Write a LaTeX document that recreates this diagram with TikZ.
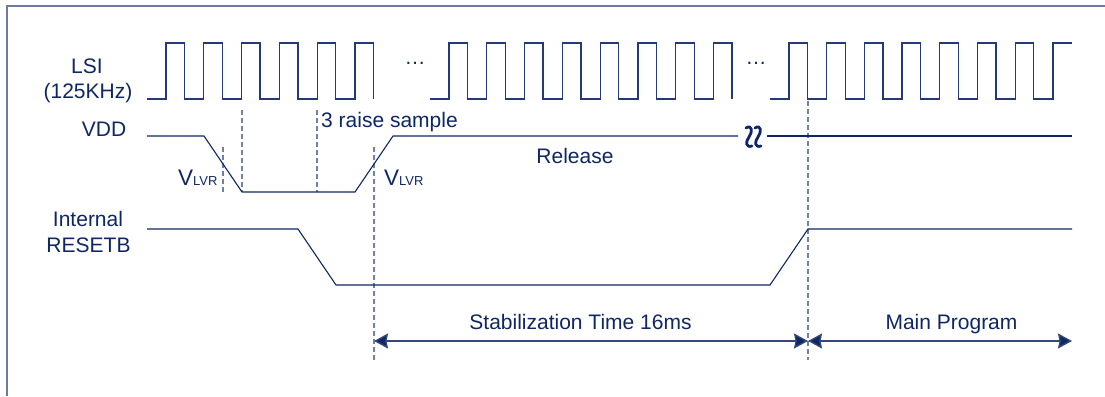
\documentclass[tikz,border=0pt]{standalone}
\usepackage{fontspec}
\setmainfont{Liberation Sans}
\usetikzlibrary{arrows.meta}
\definecolor{navy}{RGB}{14,38,100}
\definecolor{dashc}{RGB}{112,128,168}
\definecolor{framec}{RGB}{110,122,160}
\definecolor{clkc}{RGB}{36,58,118}
\tikzset{
  sigline/.style={draw=navy, line width=1.1pt},
  clkline/.style={draw=clkc, line width=1.3pt},
  guideline/.style={draw=dashc, line width=1.2pt, dash pattern=on 5pt off 3pt},
  lbltext/.style={text=navy, font=\fontsize{21}{25}\selectfont, inner sep=0pt},
  spanarrow/.style={draw=navy!85, line width=1.4pt,
    {Stealth[length=14pt,width=15pt,inset=1.5pt,fill=navy]}-{Stealth[length=14pt,width=15pt,inset=1.5pt,fill=navy]}},
  breakmark/.style={draw=navy, line width=2.8pt, line cap=round}
}
\newcommand{\subtxt}{\fontsize{13}{15}\selectfont}
\begin{document}
\begin{tikzpicture}[x=1pt,y=-1pt]
\useasboundingbox (0,0) rectangle (1105,396);
% frame
\draw[framec, line width=1.3pt] (7,396) -- (7,6) -- (1105,6);

% labels
\node[lbltext, anchor=base] (lsi) at (87,73.3) {LSI};
\node[lbltext, anchor=base] (khz) at (88,98) {(125KHz)};
\node[lbltext, anchor=base] (vdd) at (104,136.5) {VDD};
\node[lbltext, anchor=base] (int) at (88,226) {Internal};
\node[lbltext, anchor=base] (rst) at (88.5,252.3) {RESETB};
\node[lbltext, anchor=base] (dots1) at (415,64.5) {…};
\node[lbltext, anchor=base] (dots2) at (756,64.5) {…};
\node[lbltext, anchor=base west] (raise) at (321,127) {3 raise sample};
\node[lbltext, anchor=base] (rel) at (575,163.3) {Release};
\node[lbltext, anchor=base west, font=\fontsize{22.5}{26}\selectfont] (vlvr1) at (178,185) {V{\subtxt LVR}};
\node[lbltext, anchor=base west, font=\fontsize{22.5}{26}\selectfont] (vlvr2) at (384,185) {V{\subtxt LVR}};
\node[lbltext, anchor=base] (stab) at (580.5,329) {Stabilization Time 16ms};
\node[lbltext, anchor=base] (mainp) at (951.5,329) {Main Program};

% LSI clock
\draw[clkline] (147,99) \foreach \k in {0,...,5} {
  -- ({166+37.8*\k},99) -- ({166+37.8*\k},43) -- ({184.5+37.8*\k},43) -- ({184.5+37.8*\k},99)};
\draw[clkline] (430,99) \foreach \k in {0,...,7} {
  -- ({449+37.8*\k},99) -- ({449+37.8*\k},43) -- ({467.5+37.8*\k},43) -- ({467.5+37.8*\k},99)};
\draw[clkline] (770,99) \foreach \k in {0,...,6} {
  -- ({789+37.7*\k},99) -- ({789+37.7*\k},43) -- ({807.5+37.7*\k},43) -- ({807.5+37.7*\k},99)}
  -- (1052.9,99) -- (1052.9,43) -- (1072,43);

% guide lines
\draw[guideline] (223,147) -- (223,192);
\draw[guideline] (242,110) -- (242,192);
\draw[guideline] (317,110) -- (317,192);
\coordinate (g4top) at (374,147);
\coordinate (g4bot) at (374,360);
\coordinate (g5top) at (808,101);
\coordinate (g5bot) at (808,360);
\draw[guideline] (g4top) -- (g4bot);
\draw[guideline] (g5top) -- (g5bot);

% VDD
\draw[sigline] (147,136) -- (204,136) -- (242,192) -- (355,192) -- (393,136) -- (738,136);
\draw[sigline] (767,136) -- (1072,136);
\foreach \dx in {0,9} {
  \draw[breakmark] (746+\dx,128) .. controls (752+\dx,124) and (753+\dx,132) .. (749+\dx,137)
     .. controls (745+\dx,142) and (746+\dx,148) .. (752+\dx,146);
}

% Internal RESETB
\draw[sigline] (147,229) -- (298,229) -- (336,285) -- (770,285) -- (808,229) -- (1072,229);

% span arrows
\coordinate (a1) at (374,341);
\coordinate (a2) at (808,341);
\coordinate (a3) at (1072,341);
\draw[spanarrow] (a1) -- (a2);
\draw[spanarrow] (a2) -- (a3);
\end{tikzpicture}
\end{document}
